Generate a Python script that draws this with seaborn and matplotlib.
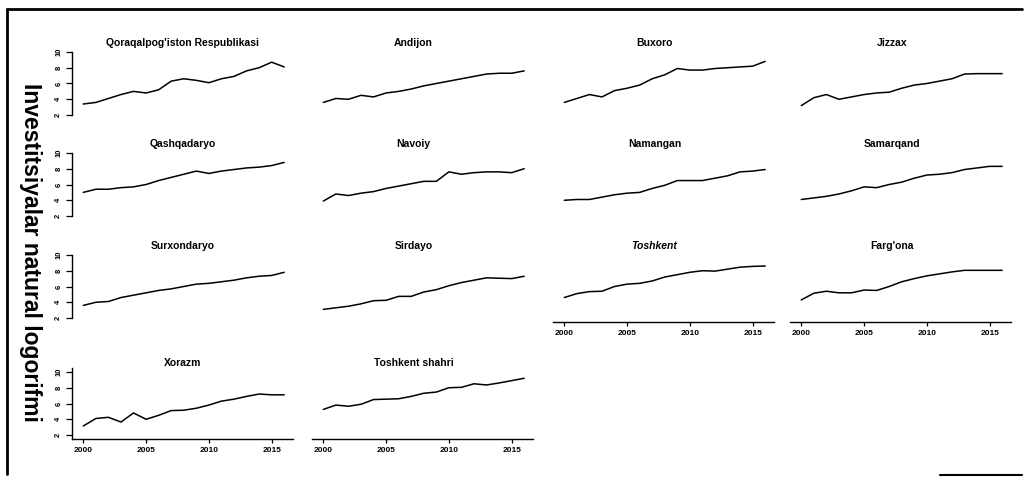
import numpy as np
import pandas as pd
import matplotlib
matplotlib.use("Agg")
import matplotlib.pyplot as plt
import seaborn as sns
from matplotlib.lines import Line2D

sns.set_style("white")
plt.rcParams['font.family'] = ['Liberation Sans', 'DejaVu Sans']
plt.rcParams['text.color'] = 'black'
plt.rcParams['xtick.color'] = 'black'
plt.rcParams['ytick.color'] = 'black'

# Years on the x axis
years = list(range(2000, 2017))

# Regions (panel order, left to right, top to bottom)
regions = [
    "Qoraqalpog'iston Respublikasi", "Andijon", "Buxoro", "Jizzax",
    "Qashqadaryo", "Navoiy", "Namangan", "Samarqand",
    "Surxondaryo", "Sirdayo", "Toshkent", "Farg'ona",
    "Xorazm", "Toshkent shahri",
]

# Natural log of investment
qoraqalpogiston = [3.4, 3.6, 4.1, 4.6, 5.0, 4.8, 5.2, 6.3, 6.6, 6.4, 6.1, 6.6, 6.9, 7.6, 8.0, 8.7, 8.1]
andijon = [3.6, 4.1, 4.0, 4.5, 4.3, 4.8, 5.0, 5.3, 5.7, 6.0, 6.3, 6.6, 6.9, 7.2, 7.3, 7.3, 7.6]
buxoro = [3.6, 4.1, 4.6, 4.3, 5.1, 5.4, 5.8, 6.6, 7.1, 7.9, 7.7, 7.7, 7.9, 8.0, 8.1, 8.2, 8.8]
jizzax = [3.2, 4.2, 4.6, 4.0, 4.3, 4.6, 4.8, 4.9, 5.4, 5.8, 6.0, 6.3, 6.6, 7.2, 7.25, 7.25, 7.25]
qashqadaryo = [5.0, 5.4, 5.4, 5.6, 5.7, 6.0, 6.5, 6.9, 7.3, 7.7, 7.4, 7.7, 7.9, 8.1, 8.2, 8.4, 8.8]
navoiy = [3.9, 4.8, 4.6, 4.9, 5.1, 5.5, 5.8, 6.1, 6.4, 6.4, 7.6, 7.3, 7.5, 7.6, 7.6, 7.5, 8.0]
namangan = [4.0, 4.1, 4.1, 4.4, 4.7, 4.9, 5.0, 5.5, 5.9, 6.5, 6.5, 6.5, 6.8, 7.1, 7.6, 7.7, 7.9]
samarqand = [4.1, 4.3, 4.5, 4.8, 5.2, 5.7, 5.6, 6.0, 6.3, 6.8, 7.2, 7.3, 7.5, 7.9, 8.1, 8.3, 8.3]
surxondaryo = [3.6, 4.0, 4.1, 4.6, 4.9, 5.2, 5.5, 5.7, 6.0, 6.3, 6.4, 6.6, 6.8, 7.1, 7.3, 7.4, 7.8]
sirdayo = [3.1, 3.3, 3.5, 3.8, 4.2, 4.25, 4.75, 4.75, 5.3, 5.6, 6.1, 6.5, 6.8, 7.1, 7.05, 7.0, 7.3]
toshkent = [4.6, 5.1, 5.35, 5.4, 6.0, 6.3, 6.4, 6.7, 7.2, 7.5, 7.8, 8.0, 7.95, 8.2, 8.45, 8.55, 8.6]
fargona = [4.3, 5.15, 5.4, 5.2, 5.2, 5.55, 5.5, 6.0, 6.6, 7.0, 7.35, 7.6, 7.85, 8.05, 8.05, 8.05, 8.05]
xorazm = [3.15, 4.1, 4.25, 3.65, 4.8, 4.0, 4.5, 5.1, 5.15, 5.4, 5.8, 6.3, 6.55, 6.9, 7.2, 7.1, 7.1]
toshkent_shahri = [5.25, 5.8, 5.65, 5.9, 6.5, 6.55, 6.6, 6.9, 7.3, 7.45, 8.0, 8.05, 8.5, 8.35, 8.6, 8.9, 9.2]

series = [qoraqalpogiston, andijon, buxoro, jizzax, qashqadaryo, navoiy, namangan,
          samarqand, surxondaryo, sirdayo, toshkent, fargona, xorazm, toshkent_shahri]

df = pd.concat(
    [pd.DataFrame({'Region': r, 'Year': years, 'LogInv': v}) for r, v in zip(regions, series)],
    ignore_index=True,
)

W, H = 1027, 484
fig = plt.figure(figsize=(W / 100, H / 100), dpi=100)

# panel boxes in pixels (left edge of each column, top/bottom of each row)
col_left = [72, 312, 553, 790]
panel_w = 221
row_top = [48, 149, 251, 368]
row_h = 71

# which panels show the x axis (bottom of each column)
bottom_panel = {0: 3, 1: 3, 2: 2, 3: 2}

for i, region in enumerate(regions):
    row, col = divmod(i, 4)
    left = col_left[col] / W
    bottom = 1 - (row_top[row] + row_h) / H
    ax = fig.add_axes([left, bottom, panel_w / W, row_h / H])
    sub = df[df['Region'] == region]
    sns.lineplot(data=sub, x='Year', y='LogInv', color='black', linewidth=1.1, ax=ax)
    ax.set_xlim(1999.1, 2016.7)
    ax.set_ylim(1.5, 10.5)
    ax.set_xlabel('')
    ax.set_ylabel('')
    ax.patch.set_alpha(0)
    for s in ['top', 'right']:
        ax.spines[s].set_visible(False)

    # y axis only in first column
    if col == 0:
        ax.spines['left'].set_linewidth(1.0)
        ax.spines['left'].set_color('black')
        if row < 3:
            ax.spines['left'].set_bounds(2, 10)
        ax.set_yticks([2, 4, 6, 8, 10])
        ax.set_yticklabels(['2', '4', '6', '8', '10'], rotation=90, va='center',
                           fontsize=5.5, fontweight='bold')
        ax.tick_params(axis='y', direction='out', length=4, width=0.9, pad=3, left=True)
    else:
        ax.spines['left'].set_visible(False)
        ax.set_yticks([])

    # x axis only at the bottom of each column
    if bottom_panel[col] == row:
        ax.spines['bottom'].set_linewidth(1.0)
        ax.spines['bottom'].set_color('black')
        ax.set_xticks([2000, 2005, 2010, 2015])
        ax.set_xticklabels(['2000', '2005', '2010', '2015'], fontsize=6, fontweight='bold')
        ax.tick_params(axis='x', direction='out', length=3, width=0.9, pad=3, bottom=True)
    else:
        ax.spines['bottom'].set_visible(False)
        ax.set_xticks([])

    tx = 0.5 if col == 0 else 0.46
    style = 'italic' if region == 'Toshkent' else 'normal'
    ax.text(tx, 1.0, region, transform=ax.transAxes, ha='center', va='bottom',
            fontsize=7.5, fontweight='bold', fontstyle=style, color='black')

# outer frame: top and left edges, plus a short piece at the bottom right
def px_line(x0, y0, x1, y1, lw=2):
    fig.add_artist(Line2D([x0 / W, x1 / W], [1 - y0 / H, 1 - y1 / H],
                          transform=fig.transFigure, color='black', linewidth=lw))

px_line(7, 9, 1022, 9)
px_line(7, 9, 7, 474)
px_line(940, 475, 1022, 475, lw=1.5)

fig.text(30 / W, 1 - 252 / H, 'Investitsiyalar natural logorifmi', rotation=270,
         ha='center', va='center', fontsize=16.5, fontweight='bold', color='black')

fig.savefig('out.png', dpi=100)
